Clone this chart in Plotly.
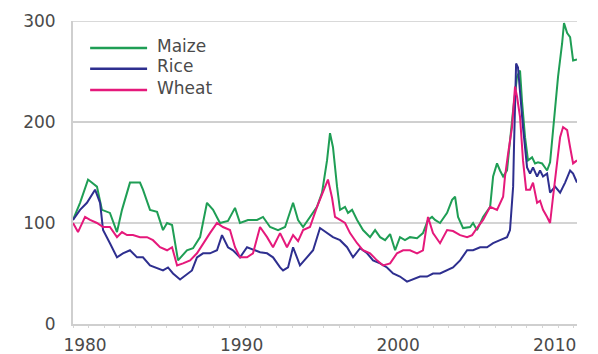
import plotly.graph_objects as go

# Grain price indices (1980 = 100), sampled at decimal years
maize_t = [1980.0, 1980.45, 1980.96, 1981.53, 1981.85, 1982.36, 1982.81, 1983.13, 1983.64, 1984.28,
           1984.47, 1984.92, 1985.37, 1985.75, 1986.01, 1986.33, 1986.71, 1987.28, 1987.67, 1988.12,
           1988.56, 1988.95, 1989.39, 1989.9, 1990.35, 1990.67, 1991.18, 1991.76, 1992.14, 1992.59,
           1993.1, 1993.55, 1994.06, 1994.38, 1994.7, 1995.14, 1995.59, 1995.91, 1996.23, 1996.42,
           1996.61, 1996.87, 1997.06, 1997.38, 1997.57, 1997.83, 1998.15, 1998.53, 1998.98, 1999.3,
           1999.62, 1999.94, 2000.26, 2000.58, 2000.89, 2001.21, 2001.53, 2001.98, 2002.36, 2002.68,
           2002.94, 2003.13, 2003.45, 2003.9, 2004.22, 2004.41, 2004.6, 2004.92, 2005.37, 2005.56,
           2005.81, 2006.2, 2006.65, 2006.84, 2007.09, 2007.28, 2007.48, 2007.73, 2007.92, 2008.12,
           2008.37, 2008.56, 2008.69, 2008.88, 2009.07, 2009.33, 2009.52, 2009.71, 2009.97, 2010.29,
           2010.48, 2010.8, 2010.99, 2011.25, 2011.37, 2011.57, 2011.76, 2011.95, 2012.2]
maize_v = [103, 120, 143, 136, 113, 110, 91, 113, 140, 140,
           133, 113, 111, 93, 100, 98, 63, 73, 75, 86,
           120, 113, 100, 102, 115, 100, 103, 103, 106, 96,
           93, 96, 120, 103, 96, 106, 116, 130, 162, 189,
           175, 136, 113, 116, 110, 113, 103, 93, 86, 93,
           86, 83, 89, 73, 86, 83, 86, 85, 90, 103,
           106, 103, 100, 110, 123, 126, 106, 95, 96, 100,
           93, 106, 116, 146, 159, 152, 146, 152, 185, 212,
           245, 251, 220, 185, 162, 165, 159, 160, 159, 152,
           160, 212, 245, 278, 298, 288, 284, 261, 262]

rice_t = [1980.0, 1980.45, 1980.89, 1981.41, 1981.73, 1981.92, 1982.36, 1982.81, 1983.19, 1983.64,
          1984.09, 1984.47, 1984.92, 1985.37, 1985.75, 1986.07, 1986.39, 1986.84, 1987.28, 1987.6,
          1987.92, 1988.31, 1988.75, 1989.2, 1989.52, 1989.9, 1990.22, 1990.67, 1991.12, 1991.5,
          1991.95, 1992.4, 1992.78, 1993.23, 1993.42, 1993.74, 1994.06, 1994.5, 1994.95, 1995.34,
          1995.78, 1996.23, 1996.61, 1997.06, 1997.51, 1997.89, 1998.34, 1998.79, 1999.17, 1999.62,
          2000.06, 2000.45, 2000.89, 2001.34, 2001.73, 2002.17, 2002.62, 2003.0, 2003.45, 2003.9,
          2004.28, 2004.73, 2005.18, 2005.56, 2006.01, 2006.45, 2006.84, 2007.28, 2007.73, 2007.92,
          2008.12, 2008.18, 2008.31, 2008.43, 2008.56, 2008.75, 2009.01, 2009.2, 2009.39, 2009.65,
          2009.84, 2010.03, 2010.29, 2010.48, 2010.8, 2011.12, 2011.44, 2011.76, 2011.95, 2012.2]
rice_v = [103, 113, 120, 133, 120, 93, 80, 66, 70, 73,
          66, 66, 58, 55, 53, 56, 50, 44, 49, 53,
          66, 70, 70, 73, 88, 76, 73, 66, 76, 74,
          71, 70, 66, 56, 53, 56, 76, 58, 66, 73,
          95, 90, 86, 83, 76, 66, 75, 70, 63, 60,
          56, 50, 47, 42, 44, 47, 47, 50, 50, 53,
          56, 63, 73, 73, 76, 76, 80, 83, 86, 93,
          136, 179, 258, 254, 228, 195, 155, 149, 155, 146,
          152, 146, 149, 130, 136, 130, 140, 152, 149, 140]

wheat_t = [1980.0, 1980.32, 1980.77, 1981.09, 1981.53, 1981.92, 1982.36, 1982.81, 1983.13, 1983.45,
           1983.83, 1984.28, 1984.73, 1985.11, 1985.56, 1986.01, 1986.33, 1986.65, 1987.03, 1987.48,
           1987.92, 1988.31, 1988.75, 1989.2, 1989.58, 1990.03, 1990.35, 1990.67, 1991.12, 1991.5,
           1991.95, 1992.4, 1992.78, 1993.23, 1993.67, 1994.06, 1994.38, 1994.7, 1995.14, 1995.59,
           1995.97, 1996.29, 1996.55, 1996.74, 1997.06, 1997.38, 1997.7, 1998.15, 1998.53, 1998.98,
           1999.42, 1999.81, 2000.26, 2000.7, 2001.09, 2001.53, 2001.98, 2002.36, 2002.68, 2003.0,
           2003.45, 2003.9, 2004.28, 2004.73, 2005.18, 2005.5, 2005.81, 2006.2, 2006.65, 2007.09,
           2007.48, 2007.6, 2007.8, 2008.05, 2008.24, 2008.37, 2008.56, 2008.75, 2008.95, 2009.2,
           2009.39, 2009.65, 2009.84, 2010.03, 2010.29, 2010.48, 2010.67, 2010.93, 2011.12, 2011.31,
           2011.57, 2011.76, 2011.95, 2012.2]
wheat_v = [100, 91, 106, 103, 100, 96, 96, 86, 91, 88,
           88, 86, 86, 83, 76, 73, 76, 58, 60, 63,
           70, 80, 90, 100, 96, 93, 76, 66, 66, 70,
           96, 86, 76, 90, 76, 88, 82, 93, 96, 116,
           130, 143, 125, 106, 103, 100, 90, 80, 73, 70,
           63, 58, 60, 70, 73, 73, 70, 73, 106, 90,
           80, 93, 92, 88, 86, 88, 95, 103, 116, 113,
           126, 146, 169, 195, 235, 225, 205, 162, 133, 133,
           140, 120, 122, 113, 106, 100, 126, 162, 185, 195,
           192, 175, 159, 162]

series_names = ["Maize", "Rice", "Wheat"]
series_colors = ["#1f9e55", "#2e2f8f", "#e5197b"]
tick_years = [1980, 1990, 2000, 2010]
y_ticks = [0, 100, 200, 300]

FONT = "DejaVu Sans"
TEXT = "#4a4a4a"
FS = 17
LABEL_SHIFT = 0.77  # year labels sit a little right of the year boundary

fig = go.Figure()
for name, color, t, v in zip(series_names, series_colors,
                             [maize_t, rice_t, wheat_t], [maize_v, rice_v, wheat_v]):
    fig.add_trace(go.Scatter(x=t, y=v, mode="lines", name=name,
                             line=dict(color=color, width=2), showlegend=False))

# horizontal reference lines
grid_styles = {100: ("#a9a9a9", 1), 200: ("#a0a0a0", 1), 300: ("#d9d9d9", 2)}
for yv, (gc, gw) in grid_styles.items():
    fig.add_shape(type="line", xref="paper", yref="y", x0=0, x1=1, y0=yv, y1=yv,
                  line=dict(color=gc, width=gw), layer="below")

# hand-built legend with long line samples
legend_y = [0.911, 0.842, 0.772]
for name, color, ly in zip(series_names, series_colors, legend_y):
    fig.add_shape(type="line", xref="paper", yref="paper", x0=0.034, x1=0.147, y0=ly, y1=ly,
                  line=dict(color=color, width=2.5))
    fig.add_annotation(xref="paper", yref="paper", x=0.163, y=ly + 0.008, text=name,
                       showarrow=False, xanchor="left", yanchor="middle",
                       font=dict(family=FONT, size=FS, color=TEXT))

fig.update_layout(
    width=598, height=354,
    margin=dict(l=73, r=21, t=21, b=30, autoexpand=False),
    paper_bgcolor="white", plot_bgcolor="white",
    font=dict(family=FONT, size=FS, color=TEXT),
)
fig.update_xaxes(
    range=[1980, 2012.2], automargin=False,
    tickmode="array",
    tickvals=[y + LABEL_SHIFT for y in tick_years],
    ticktext=[str(y) for y in tick_years],
    ticks="", showgrid=False, zeroline=False,
    showline=True, linecolor="#cfcfcf", linewidth=2,
    ticklabelstandoff=5,
    tickfont=dict(family=FONT, size=FS, color=TEXT),
    minor=dict(ticks="outside", tick0=1980, dtick=1, ticklen=2, tickcolor="#d5d5d5", showgrid=False),
)
fig.update_yaxes(
    range=[0, 300], automargin=False,
    tickmode="array", tickvals=y_ticks, ticktext=[str(v) for v in y_ticks],
    ticks="", showgrid=False, zeroline=False,
    showline=True, linecolor="#cfcfcf", linewidth=2,
    ticklabelstandoff=12,
    tickfont=dict(family=FONT, size=FS, color=TEXT),
)

fig.write_html("out.html")
